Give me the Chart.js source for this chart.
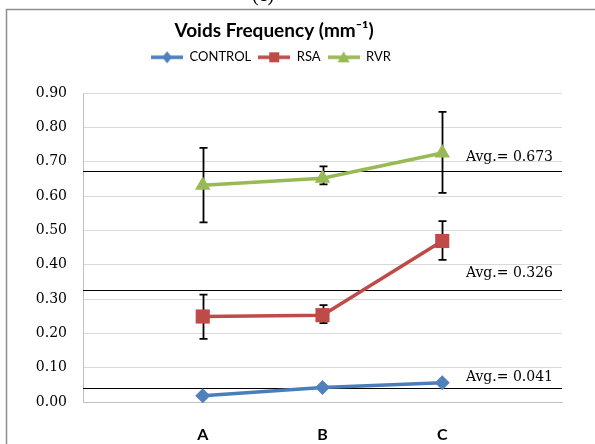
<!DOCTYPE html>
<html>
<head>
<meta charset="utf-8">
<script src="https://cdn.jsdelivr.net/npm/chart.js@4/dist/chart.umd.min.js"></script>
<style>
html,body{margin:0;padding:0;background:#fff;}
#wrap{position:relative;width:595px;height:444px;overflow:hidden;}
canvas{display:block;}
</style>
</head>
<body>
<div id="wrap"><canvas id="c" width="595" height="444"></canvas></div>
<script>
const categories = ['A', 'B', 'C'];
const seriesNames = ['CONTROL', 'RSA', 'RVR'];
const controlValues = [0.018, 0.042, 0.056];
const rsaValues = [0.249, 0.253, 0.469];
const rvrValues = [0.631, 0.652, 0.725];
const rsaHigh = [0.313, 0.282, 0.527];
const rsaLow = [0.184, 0.230, 0.414];
const rvrHigh = [0.740, 0.686, 0.845];
const rvrLow = [0.523, 0.634, 0.609];
const averages = [0.673, 0.326, 0.041];
const averageLabels = ['Avg.= 0.673', 'Avg.= 0.326', 'Avg.= 0.041'];
const yTicks = [0, 0.1, 0.2, 0.3, 0.4, 0.5, 0.6, 0.7, 0.8, 0.9];

const colors = {
  CONTROL: {line: '#4a7ebb', point: '#4f81bd', style: 'rectRot', radius: 7.5},
  RSA: {line: '#be4b48', point: '#be4b48', style: 'rect', radius: 10},
  RVR: {line: '#98b954', point: '#98b954', style: 'triangle', radius: 9}
};

function legendIcon(name) {
  const c = document.createElement('canvas');
  c.width = 32; c.height = 16;
  const ctx = c.getContext('2d');
  const s = colors[name];
  ctx.strokeStyle = s.line; ctx.lineWidth = 3.5;
  ctx.beginPath(); ctx.moveTo(0, 8); ctx.lineTo(32, 8); ctx.stroke();
  ctx.fillStyle = s.point;
  ctx.beginPath();
  if (s.style === 'rectRot') {
    ctx.moveTo(16, 2); ctx.lineTo(21, 8); ctx.lineTo(16, 14); ctx.lineTo(11, 8);
  } else if (s.style === 'rect') {
    ctx.rect(11, 3, 10, 10);
  } else {
    ctx.moveTo(16, 2); ctx.lineTo(22, 13); ctx.lineTo(10, 13);
  }
  ctx.closePath(); ctx.fill();
  return c;
}

function mkData(vals) { return vals.map((v, i) => ({x: i + 1, y: v})); }

const seriesValues = [controlValues, rsaValues, rvrValues];
const datasets = seriesNames.map((n, k) => ({
  label: n,
  data: mkData(seriesValues[k]),
  xAxisID: 'x',
  yAxisID: 'y',
  borderColor: colors[n].line,
  backgroundColor: colors[n].point,
  pointBackgroundColor: colors[n].point,
  pointBorderColor: colors[n].point,
  pointBorderWidth: 0,
  pointStyle: colors[n].style,
  pointRadius: colors[n].radius,
  pointHoverRadius: colors[n].radius,
  borderWidth: 3.5,
  tension: 0,
  clip: false
}));

const errorBars = {1: {high: rsaHigh, low: rsaLow}, 2: {high: rvrHigh, low: rvrLow}};

const frameAndExtras = {
  id: 'frameAndExtras',
  beforeDraw(chart) {
    const ctx = chart.ctx;
    ctx.save();
    ctx.fillStyle = '#fff';
    ctx.fillRect(0, 0, chart.width, chart.height);
    ctx.strokeStyle = '#8e8e8e';
    ctx.lineWidth = 1.5;
    ctx.strokeRect(6.5, 9.5, 700, 600);
    ctx.fillStyle = '#000';
    ctx.font = '20px "Liberation Serif"';
    ctx.textAlign = 'center';
    ctx.textBaseline = 'alphabetic';
    ctx.fillText('(c)', 263, 1);
    ctx.restore();
  },
  beforeDatasetsDraw(chart) {
    const ctx = chart.ctx;
    const xs = chart.scales.x, ys = chart.scales.y;
    const area = chart.chartArea;
    ctx.save();
    ctx.strokeStyle = '#000';
    ctx.lineWidth = 1;
    averages.forEach(v => {
      const y = Math.round(ys.getPixelForValue(v)) + 0.5;
      ctx.beginPath(); ctx.moveTo(area.left, y); ctx.lineTo(area.right, y); ctx.stroke();
    });
    ctx.lineWidth = 1.8;
    Object.keys(errorBars).forEach(k => {
      const e = errorBars[k];
      categories.forEach((c, i) => {
        const x = Math.round(xs.getPixelForValue(i + 1)) + 0.5;
        const yh = ys.getPixelForValue(e.high[i]);
        const yl = ys.getPixelForValue(e.low[i]);
        ctx.beginPath();
        ctx.moveTo(x, yh); ctx.lineTo(x, yl);
        ctx.moveTo(x - 4, yh); ctx.lineTo(x + 4, yh);
        ctx.moveTo(x - 4, yl); ctx.lineTo(x + 4, yl);
        ctx.stroke();
      });
    });
    ctx.restore();
  },
  afterDatasetsDraw(chart) {
    const ctx = chart.ctx;
    const ys = chart.scales.y;
    const area = chart.chartArea;
    const offsets = [14, 17, 11];
    ctx.save();
    ctx.fillStyle = '#000';
    ctx.font = '14px "DejaVu Serif"';
    ctx.textAlign = 'right';
    ctx.textBaseline = 'middle';
    averages.forEach((v, i) => {
      const y = ys.getPixelForValue(v);
      ctx.fillText(averageLabels[i], area.right - 9, y - offsets[i]);
    });
    ctx.restore();
  }
};

new Chart(document.getElementById('c'), {
  type: 'line',
  data: {datasets},
  plugins: [frameAndExtras],
  options: {
    responsive: false,
    animation: false,
    devicePixelRatio: 1,
    layout: {padding: {left: 0, right: 33, top: 0, bottom: 0}},
    plugins: {
      tooltip: {enabled: false},
      title: {
        display: true,
        text: 'Voids Frequency (mm\u207B\u00B9)   ',
        color: '#000',
        font: {family: 'Lato', size: 19, weight: 'bold'},
        padding: {top: 19, bottom: 2}
      },
      legend: {
        display: true,
        position: 'top',
        labels: {
          color: '#000',
          font: {family: 'Lato', size: 13},
          usePointStyle: true,
          pointStyleWidth: 32,
          padding: 7,
          generateLabels(chart) {
            return chart.data.datasets.map((d, i) => ({
              text: i === 2 ? d.label + '      ' : d.label,
              pointStyle: legendIcon(d.label),
              datasetIndex: i,
              fillStyle: d.borderColor,
              strokeStyle: d.borderColor,
              lineWidth: 0,
              hidden: false,
              fontColor: '#000'
            }));
          }
        }
      }
    },
    scales: {
      x: {
        type: 'linear',
        position: 'bottom',
        min: 0,
        max: 4,
        grid: {display: false, drawTicks: false},
        border: {display: true, color: '#bfbfbf', width: 1},
        afterBuildTicks(s) { s.ticks = categories.map((c, i) => ({value: i + 1})); },
        ticks: {
          padding: 23,
          color: '#000',
          font: {family: 'Lato', size: 16, weight: 'bold'},
          callback(v) { return categories[v - 1]; },
          autoSkip: false,
          maxRotation: 0
        },
        afterFit(s) { s.height = 42; }
      },
      xTop: {
        type: 'linear',
        position: 'top',
        min: 0,
        max: 4,
        display: true,
        grid: {display: false, drawTicks: false},
        border: {display: false},
        ticks: {display: false},
        afterFit(s) { s.height = 19.2; }
      },
      y: {
        min: 0,
        max: 0.9,
        grid: {color: '#d9d9d9', lineWidth: 1, drawTicks: false},
        border: {display: true, color: '#bfbfbf', width: 1},
        afterBuildTicks(s) { s.ticks = yTicks.map(v => ({value: v})); },
        ticks: {
          padding: 16,
          color: '#000',
          font: {family: 'DejaVu Serif', size: 14},
          callback(v) { return v.toFixed(2); }
        },
        afterFit(s) { s.width = 83; }
      }
    }
  }
});
</script>
</body>
</html>
